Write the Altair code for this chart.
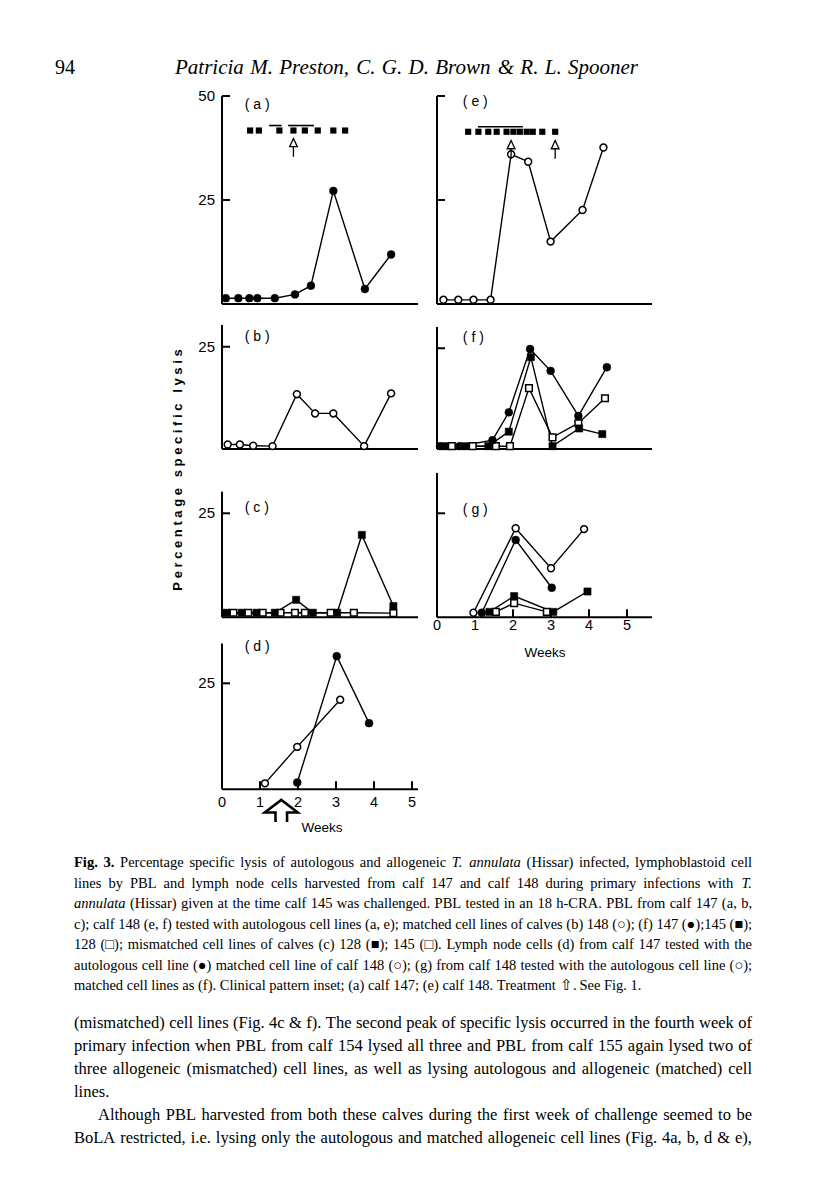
import altair as alt
import pandas as pd

SANS = "Liberation Sans"
SERIF = "Liberation Serif"

# ---------------- values ----------------
# x = weeks after infection, y = percentage specific lysis
# (a) PBL calf 147 vs autologous line (filled circles)
a_wk = [0.10, 0.43, 0.72, 0.93, 1.39, 1.92, 2.34, 2.93, 3.76, 4.45]
a_lys = [1.4, 1.4, 1.4, 1.4, 1.4, 2.3, 4.4, 27.2, 3.6, 11.9]
a_inset_wk = [0.74, 0.97, 1.51, 1.88, 2.18, 2.52, 2.93, 3.24]
a_inset_lvl = 41.7
a_bar_start = [1.24, 1.74]
a_bar_end = [1.57, 2.42]
a_bar_lvl = 42.9
a_treat_wk = [1.88]
a_treat_lvl = 37.6

# (e) PBL calf 148 vs autologous line (open circles)
e_wk = [0.17, 0.56, 0.96, 1.41, 1.95, 2.40, 2.99, 3.83, 4.38]
e_lys = [1.0, 1.0, 1.0, 1.0, 36.0, 34.2, 15.0, 22.6, 37.6]
e_inset_wk = [0.82, 1.09, 1.35, 1.57, 1.83, 2.01, 2.18, 2.36, 2.52, 2.77, 3.11]
e_inset_lvl = 41.4
e_bar_start = [1.08]
e_bar_end = [2.26]
e_bar_lvl = 42.6
e_treat_wk = [1.95, 3.11]
e_treat_lvl = 37.1

# (b) calf 147 PBL vs matched line of calf 148 (open circles)
b_wk = [0.15, 0.47, 0.82, 1.33, 1.97, 2.45, 2.93, 3.74, 4.45]
b_lys = [1.1, 1.1, 0.8, 0.7, 13.4, 8.7, 8.7, 0.7, 13.6]

# (f) calf 148 PBL vs matched lines 147 (filled circle), 145 (filled square), 128 (open square)
f147_wk = [0.08, 0.59, 1.46, 1.89, 2.45, 2.99, 3.72, 4.47]
f147_lys = [0.7, 0.7, 2.2, 9.1, 24.8, 19.4, 8.2, 20.3]
f145_wk = [0.21, 0.74, 1.35, 1.89, 2.47, 3.04, 3.74, 4.35]
f145_lys = [0.7, 0.7, 0.7, 4.3, 22.8, 0.7, 5.1, 3.7]
f128_wk = [0.39, 0.94, 1.55, 1.92, 2.42, 3.04, 3.72, 4.42]
f128_lys = [0.7, 0.7, 0.7, 0.7, 15.1, 2.9, 6.4, 12.6]

# (c) calf 147 PBL vs mismatched lines 128 (filled square), 145 (open square)
c128_wk = [0.12, 0.52, 0.91, 1.39, 1.95, 2.39, 3.03, 3.68, 4.51]
c128_lys = [1.1, 1.1, 1.1, 1.1, 4.2, 1.1, 1.1, 19.8, 2.7]
c145_wk = [0.30, 0.69, 1.07, 1.54, 1.92, 2.18, 2.86, 3.47, 4.51]
c145_lys = [1.1, 1.1, 1.1, 1.1, 1.1, 1.1, 1.1, 1.1, 1.0]

# (g) calf 148 lymph node cells
g148_wk = [0.96, 2.07, 3.00, 3.87]
g148_lys = [1.1, 21.4, 11.8, 21.2]
g147_wk = [1.18, 2.07, 3.02]
g147_lys = [1.1, 18.6, 7.1]
g145_wk = [1.38, 2.03, 3.06, 3.96]
g145_lys = [1.3, 5.1, 1.3, 6.2]
g128_wk = [1.55, 2.03, 2.89]
g128_lys = [1.3, 3.4, 1.3]

# (d) calf 147 lymph node cells
d148_wk = [1.13, 1.98, 3.11]
d148_lys = [1.4, 10.0, 21.1]
d147_wk = [1.98, 3.02, 3.87]
d147_lys = [1.6, 31.4, 15.6]
d_treat_wk = [1.56]
d_treat_lvl = -5.1

week_labels = [0, 1, 2, 3, 4, 5]
week_ticks = [1, 2, 3, 4, 5]

HEADER_NUM = "94"
HEADER_AUTH = "_Patricia _M. _Preston, _C. _G. _D. _Brown _& _R. _L. _Spooner"
YLABEL = "Percentage specific lysis"

CAPTION = [
    "*Fig. *3. Percentage specific lysis of autologous and allogeneic _T. _annulata (Hissar) infected, lymphoblastoid cell",
    "lines by PBL and lymph node cells harvested from calf 147 and calf 148 during primary infections with _T.",
    "_annulata (Hissar) given at the time calf 145 was challenged. PBL tested in an 18 h-CRA. PBL from calf 147 (a, b,",
    "c); calf 148 (e, f) tested with autologous cell lines (a, e); matched cell lines of calves (b) 148 (\u25cb); (f) 147 (\u25cf);145 (\u25a0);",
    "128 (\u25a1); mismatched cell lines of calves (c) 128 (\u25a0); 145 (\u25a1). Lymph node cells (d) from calf 147 tested with the",
    "autologous cell line (\u25cf) matched cell line of calf 148 (\u25cb); (g) from calf 148 tested with the autologous cell line (\u25cb);",
    "matched cell lines as (f). Clinical pattern inset; (a) calf 147; (e) calf 148. Treatment \u21e7. See Fig. 1.",
]
CAPTION_JUST = [True, True, True, True, True, True, False]
BODY = [
    "(mismatched) cell lines (Fig. 4c & f). The second peak of specific lysis occurred in the fourth week of",
    "primary infection when PBL from calf 154 lysed all three and PBL from calf 155 again lysed two of",
    "three allogeneic (mismatched) cell lines, as well as lysing autologous and allogeneic (matched) cell",
    "lines.",
    "Although PBL harvested from both these calves during the first week of challenge seemed to be",
    "BoLA restricted, i.e. lysing only the autologous and matched allogeneic cell lines (Fig. 4a, b, d & e),",
]
BODY_JUST = [True, True, True, False, True, True]
BODY_INDENT = [0, 0, 0, 0, 24, 0]

# ---------------- text metrics (Times / Liberation Serif widths, 1/1000 em) ----------------
ROMAN = {' ': 250, '!': 333, '&': 778, "'": 333, '(': 333, ')': 333, ',': 250, '-': 333,
         '.': 250, '/': 278, ':': 278, ';': 278, '?': 444,
         '\u25cb': 604, '\u25cf': 604, '\u25a0': 604, '\u25a1': 604, '\u21e7': 838}
ROMAN.update({d: 500 for d in '0123456789'})
ROMAN.update(dict(zip('ABCDEFGHIJKLMNOPQRSTUVWXYZ',
                      [722, 667, 667, 722, 611, 556, 722, 722, 333, 389, 722, 611, 889, 722, 722, 556,
                       722, 667, 556, 611, 722, 722, 944, 722, 722, 611])))
ROMAN.update(dict(zip('abcdefghijklmnopqrstuvwxyz',
                      [444, 500, 444, 500, 444, 333, 500, 500, 278, 278, 500, 278, 778, 500, 500, 500,
                       500, 333, 389, 278, 500, 500, 722, 500, 500, 444])))
ITAL = dict(ROMAN)
ITAL.update(dict(zip('abcdefghijklmnopqrstuvwxyz',
                     [500, 500, 444, 500, 444, 278, 500, 500, 278, 278, 444, 278, 722, 500, 500, 500,
                      500, 389, 389, 278, 500, 444, 667, 444, 444, 389])))
ITAL.update({'T': 556, 'P': 611, 'M': 833, 'C': 667, 'G': 722, 'D': 722, 'B': 611, 'R': 611,
             'L': 556, 'S': 500})
BOLD = dict(ROMAN)
BOLD.update({'F': 611, 'i': 278, 'g': 500, '3': 500})


def tw(s, style):
    tbl = ITAL if style == 'i' else BOLD if style == 'b' else ROMAN
    return sum(tbl.get(ch, 500) for ch in s) / 1000.0


def layout(lines, size, x0, x1, ys, just, indent, block):
    rows = []
    for line, y, j, ind in zip(lines, ys, just, indent):
        toks = []
        for w in line.split(' '):
            if w.startswith('*'):
                toks.append((w[1:], 'b'))
            elif w.startswith('_'):
                toks.append((w[1:], 'i'))
            else:
                toks.append((w, 'r'))
        widths = [tw(t, s) * size for t, s in toks]
        start = x0 + ind
        n = len(toks)
        if j and n > 1:
            gap = (x1 - start - sum(widths)) / (n - 1)
        else:
            gap = 0.25 * size
        x = start
        for k, ((t, s), w) in enumerate(zip(toks, widths)):
            if j and n > 1 and k == n - 1:
                rows.append(dict(x=x1, y=y, text=t, style=s, align='right', block=block))
            else:
                rows.append(dict(x=x, y=y, text=t, style=s, align='left', block=block))
            x += w + gap
    return rows


# ---------------- marks ----------------
SYM = {
    'oc': dict(shape='circle', filled=True, fill='white', stroke='black', strokeWidth=1.5, size=48, opacity=1),
    'fc': dict(shape='circle', filled=True, fill='black', stroke='black', strokeWidth=0.5, size=62, opacity=1),
    'fs': dict(shape='square', filled=True, fill='black', stroke='black', strokeWidth=0.5, size=52, opacity=1),
    'os': dict(shape='square', filled=True, fill='white', stroke='black', strokeWidth=1.5, size=44, opacity=1),
}
SMALL_ARROW = "M -0.42 -0.1 L 0 -1 L 0.42 -0.1 Z M 0 -0.1 L 0 1"
BIG_ARROW = "M -0.35 0.67 L -0.35 0.1 L -1 0.1 L 0 -0.67 L 1 0.1 L 0.35 0.1 L 0.35 0.67"
PPW = 38.0   # pixels per week
TICK = 8.0   # tick length, px
# column geometry: plot width, offset of week 0 from the left edge, x-axis length (px)
COLS = {'L': (236, 32, 196), 'R': (240, 11, 215)}


def panel(col, top, bottom, zero, ppu, axis_top, tick_vals, show_labels, series, label, label_at,
          xlab_pad=None, extras=None):
    width, x0px, xlen = COLS[col]
    xs = alt.Scale(domain=[-x0px / PPW, (width - x0px) / PPW], nice=False, zero=False)
    ys = alt.Scale(domain=[-(bottom - zero) / ppu, (zero - top) / ppu], nice=False, zero=False)

    def X(f):
        return alt.X(f + ':Q', scale=xs, axis=None)

    def Y(f):
        return alt.Y(f + ':Q', scale=ys, axis=None)

    layers = [
        alt.Chart(pd.DataFrame({'x': [0.0], 'y': [0.0], 'y2': [axis_top]}))
        .mark_rule(color='black', strokeWidth=2).encode(x=X('x'), y=Y('y'), y2='y2:Q'),
        alt.Chart(pd.DataFrame({'x': [0.0], 'x2': [xlen / PPW], 'y': [0.0]}))
        .mark_rule(color='black', strokeWidth=2).encode(x=X('x'), x2='x2:Q', y=Y('y')),
        alt.Chart(pd.DataFrame({'x': [0.0] * len(tick_vals), 'x2': [TICK / PPW] * len(tick_vals),
                                'y': tick_vals}))
        .mark_rule(color='black', strokeWidth=2).encode(x=X('x'), x2='x2:Q', y=Y('y')),
    ]
    if show_labels:
        layers.append(
            alt.Chart(pd.DataFrame({'x': [0.0] * len(tick_vals), 'y': tick_vals,
                                    't': [str(v) for v in tick_vals]}))
            .mark_text(font=SANS, fontSize=15, align='right', baseline='middle', dx=-7, color='black')
            .encode(x=X('x'), y=Y('y'), text='t:N'))
    if xlab_pad is not None:
        layers.append(
            alt.Chart(pd.DataFrame({'x': week_ticks, 'y': [0.0] * len(week_ticks),
                                    'y2': [TICK / ppu] * len(week_ticks)}))
            .mark_rule(color='black', strokeWidth=2).encode(x=X('x'), y=Y('y'), y2='y2:Q'))
        layers.append(
            alt.Chart(pd.DataFrame({'x': week_labels, 'y': [0.0] * len(week_labels),
                                    't': [str(v) for v in week_labels]}))
            .mark_text(font=SANS, fontSize=14.5, align='center', baseline='top', dy=xlab_pad,
                       color='black')
            .encode(x=X('x'), y=Y('y'), text='t:N'))
    pts = []
    for kind, wk, lys in series:
        df = pd.DataFrame({'x': wk, 'y': lys, 'o': list(range(len(wk)))})
        layers.append(alt.Chart(df).mark_line(color='black', strokeWidth=1.4)
                      .encode(x=X('x'), y=Y('y'), order='o:Q'))
        pts.append(alt.Chart(df).mark_point(**SYM[kind]).encode(x=X('x'), y=Y('y')))
    layers += pts
    layers.append(
        alt.Chart(pd.DataFrame({'x': [label_at[0]], 'y': [label_at[1]], 't': [label]}))
        .mark_text(font=SANS, fontSize=14, align='left', baseline='middle', color='black')
        .encode(x=X('x'), y=Y('y'), text='t:N'))
    if extras:
        layers += extras(X, Y)
    return alt.layer(*layers).properties(width=width, height=bottom - top)


def inset(sq_wk, sq_lvl, b0, b1, b_lvl, ar_wk, ar_lvl):
    def f(X, Y):
        return [
            alt.Chart(pd.DataFrame({'x': sq_wk, 'y': [sq_lvl] * len(sq_wk)}))
            .mark_point(shape='square', filled=True, color='black', size=38, opacity=1)
            .encode(x=X('x'), y=Y('y')),
            alt.Chart(pd.DataFrame({'x': b0, 'x2': b1, 'y': [b_lvl] * len(b0)}))
            .mark_rule(color='black', strokeWidth=1.6).encode(x=X('x'), x2='x2:Q', y=Y('y')),
            alt.Chart(pd.DataFrame({'x': ar_wk, 'y': [ar_lvl] * len(ar_wk)}))
            .mark_point(shape=SMALL_ARROW, filled=False, stroke='black', strokeWidth=1.3,
                        size=335, opacity=1)
            .encode(x=X('x'), y=Y('y')),
        ]
    return f


def weeks_label(x, y, treat=None):
    def f(X, Y):
        out = [alt.Chart(pd.DataFrame({'x': [x], 'y': [y], 't': ['Weeks']}))
               .mark_text(font=SANS, fontSize=13.5, align='center', baseline='middle', color='black')
               .encode(x=X('x'), y=Y('y'), text='t:N')]
        if treat is not None:
            out.append(alt.Chart(pd.DataFrame({'x': treat[0], 'y': [treat[1]] * len(treat[0])}))
                       .mark_point(shape=BIG_ARROW, filled=False, stroke='black', strokeWidth=2.6,
                                   size=1089, opacity=1)
                       .encode(x=X('x'), y=Y('y')))
        return out
    return f


# page geometry of the panels (top, bottom, zero line in px, px per % lysis)
pa = panel('L', 84, 312, 304, 4.16, 50, [25, 50], True, [('fc', a_wk, a_lys)], '( a )', (0.6, 47.8),
           extras=inset(a_inset_wk, a_inset_lvl, a_bar_start, a_bar_end, a_bar_lvl, a_treat_wk, a_treat_lvl))
pb = panel('L', 312, 460, 449, 4.09, 30.3, [25], True, [('oc', b_wk, b_lys)], '( b )', (0.6, 27.5))
pc = panel('L', 460, 628, 617.3, 4.16, 30.2, [25], True,
           [('os', c145_wk, c145_lys), ('fs', c128_wk, c128_lys)], '( c )', (0.6, 26.2))
pd_ = panel('L', 628, 845, 789.3, 4.24, 34.4, [25], True,
            [('oc', d148_wk, d148_lys), ('fc', d147_wk, d147_lys)], '( d )', (0.6, 33.6),
            xlab_pad=7, extras=weeks_label(2.63, -9.1, (d_treat_wk, d_treat_lvl)))

pe = panel('R', 84, 312, 304, 4.16, 50, [25, 50], False, [('oc', e_wk, e_lys)], '( e )', (0.68, 48.6),
           extras=inset(e_inset_wk, e_inset_lvl, e_bar_start, e_bar_end, e_bar_lvl, e_treat_wk, e_treat_lvl))
pf = panel('R', 312, 460, 449, 4.03, 30.3, [25], False,
           [('os', f128_wk, f128_lys), ('fs', f145_wk, f145_lys), ('fc', f147_wk, f147_lys)],
           '( f )', (0.68, 27.5))
pg = panel('R', 460, 670, 617.3, 4.16, 34.7, [25], False,
           [('os', g128_wk, g128_lys), ('fs', g145_wk, g145_lys), ('fc', g147_wk, g147_lys),
            ('oc', g148_wk, g148_lys)], '( g )', (0.68, 25.8),
           xlab_pad=2, extras=weeks_label(2.84, -8.6))

nb = '\u00a0'
spaced = (nb * 3).join(nb.join(w) for w in YLABEL.split(' '))
ylab = alt.Chart(pd.DataFrame({'t': [spaced]})).mark_text(
    angle=270, font=SANS, fontSize=13, fontWeight='bold', align='center', baseline='middle',
    color='black').encode(x=alt.value(170), y=alt.value(386), text='t:N').properties(width=182, height=761)

left_col = alt.vconcat(pa, pb, pc, pd_, spacing=0)
right_col = alt.vconcat(pe, pf, pg, spacing=0)
fig_row = alt.hconcat(ylab, left_col, right_col, spacing=0)

# ---------------- header and text blocks ----------------
head_rows = [dict(x=47, y=60, text=HEADER_NUM, style='r', align='left', block='head')]
head_rows += layout([HEADER_AUTH], 21, 167, 630, [60], [True], [0], 'head')

cap_y = [18, 39, 59, 80, 100, 121, 141]
body_y = [178, 201, 224, 247, 270, 293]
text_rows = layout(CAPTION, 14.5, 66, 744, cap_y, CAPTION_JUST, [0] * 7, 'cap')
text_rows += layout(BODY, 16.5, 66, 744, body_y, BODY_JUST, BODY_INDENT, 'body')

SIZES = {'head': 21, 'cap': 14.5, 'body': 16.5}


def text_chart(rows, width, height):
    df = pd.DataFrame(rows)
    layers = []
    for (block, style, align), sub in df.groupby(['block', 'style', 'align']):
        size = SIZES[block]
        if block == 'head' and style == 'r':
            size = 20
        kw = dict(font=SERIF, fontSize=size, align=align, baseline='middle', color='black')
        if style == 'i':
            kw['fontStyle'] = 'italic'
        if style == 'b':
            kw['fontWeight'] = 'bold'
        layers.append(alt.Chart(sub.reset_index(drop=True)).mark_text(**kw).encode(
            x=alt.X('x:Q', scale=None, axis=None),
            y=alt.Y('y:Q', scale=None, axis=None),
            text='text:N'))
    return alt.layer(*layers).properties(width=width, height=height)


header = text_chart(head_rows, 800, 76)
texts = text_chart(text_rows, 800, 340)

chart = alt.vconcat(header, fig_row, texts, spacing=0, padding=0, background='white') \
    .configure_view(stroke=None)

chart.save("out.html", embed_options={"renderer": "svg", "actions": False})
